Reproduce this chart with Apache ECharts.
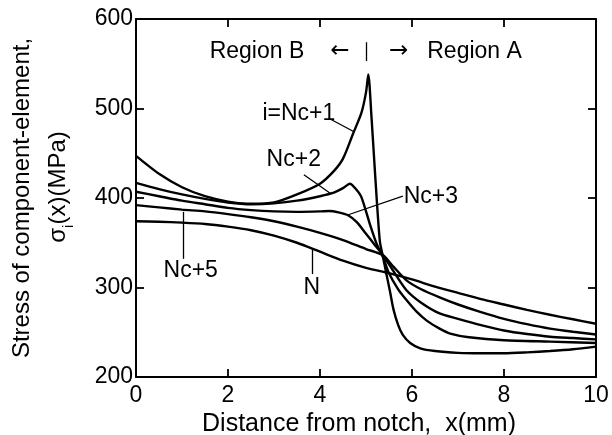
<!DOCTYPE html>
<html>
<head>
<meta charset="utf-8">
<script src="https://cdn.jsdelivr.net/npm/echarts@6/dist/echarts.min.js"></script>
<style>
html, body { margin: 0; padding: 0; background: #fff; }
#chart { width: 612px; height: 435px; }
</style>
</head>
<body>
<div id="chart"></div>
<script>
// stress curves, x in mm, stress in MPa
const nc1X = [0, 0.5, 1, 1.5, 2, 2.5, 3, 3.5, 4, 4.3, 4.5, 4.72, 4.9, 5, 5.05, 5.12, 5.2, 5.3, 5.37, 5.44, 5.52, 5.6, 5.7, 5.8, 5.96, 6.18, 6.5, 7, 7.5, 8, 8.5, 9, 9.5, 10];
const nc1Y = [447, 427, 412, 402, 396, 393.5, 395, 404, 416, 430, 444, 472, 495, 518, 538, 490, 425, 352, 334, 316, 296, 275, 258, 247, 238, 232, 229, 227, 226.5, 226.5, 227.5, 229, 231, 234];

const nc2X = [0, 0.5, 1, 1.5, 2, 2.5, 3, 3.5, 4, 4.3, 4.5, 4.65, 4.78, 4.9, 5.08, 5.23, 5.37, 5.5, 5.7, 5.88, 6.1, 6.32, 6.6, 6.83, 7.24, 8, 9, 10];
const nc2Y = [417, 410, 404, 399, 395, 393, 394, 397, 402, 406, 411, 416, 410, 401, 371.5, 349, 334, 316, 298, 286, 273, 263, 254, 248.5, 244.4, 241, 239.5, 238];

const nc3X = [0, 0.5, 1, 1.5, 2, 2.5, 3, 3.5, 4, 4.2, 4.4, 4.6, 4.8, 5, 5.2, 5.37, 5.6, 5.88, 6.2, 6.6, 7, 7.5, 8, 8.5, 9, 9.5, 10];
const nc3Y = [407, 402, 397, 393, 389, 386.5, 385, 384.5, 385, 385.5, 384, 381, 373, 360, 347, 336, 318, 297, 283, 271, 265, 258, 252, 248, 245, 243.5, 242];

const nc5X = [0, 0.5, 1, 1.5, 2, 2.5, 3, 3.5, 4, 4.5, 5, 5.37, 5.6, 5.88, 6.2, 6.6, 7, 7.5, 8, 8.5, 9, 9.5, 10];
const nc5Y = [392, 389.5, 387, 385, 382, 378.5, 374, 368, 361, 353, 343, 336, 323, 308, 298, 289, 281, 272.5, 265, 259, 254, 250.5, 247.5];

const nX = [0, 0.5, 1, 1.5, 2, 2.5, 3, 3.5, 4, 4.5, 5, 5.5, 6, 6.5, 7, 7.5, 8, 8.5, 9, 9.5, 10];
const nY = [374, 373.5, 372.5, 371, 368, 364, 358, 350, 340, 330, 322, 316, 309, 301, 294, 287, 281, 275, 269.5, 264.5, 259.5];

const xTicks = [0, 2, 4, 6, 8, 10];
const yTicks = [200, 300, 400, 500, 600];

const curveNames = ['i=Nc+1', 'Nc+2', 'Nc+3', 'Nc+5', 'N'];

// annotation placement (data coords)
const labelSpots = [
    ['i=Nc+1', 3.54, 494],
    ['Nc+2', 3.43, 443],
    ['Nc+3', 6.41, 402],
    ['Nc+5', 1.19, 319],
    ['N', 3.82, 300],
    ['Region B', 2.63, 564],
    ['{a|\u2190}', 4.43, 564],
    ['{a|\u2192}', 5.71, 564],
    ['Region A', 7.36, 564]
];
const leaders = [
    [[4.23, 488], [4.74, 474]],
    [[3.65, 426], [4.23, 405]],
    [[5.8, 402], [4.6, 381]],
    [[1.03, 384.5], [1.03, 332]],
    [[3.83, 343], [3.83, 315]],
    [[5, 553], [5, 574]]
];

const font = 'Liberation Sans';
const zip = (xs, ys) => xs.map((x, i) => [x, ys[i]]);
const curves = [zip(nc1X, nc1Y), zip(nc2X, nc2Y), zip(nc3X, nc3Y), zip(nc5X, nc5Y), zip(nX, nY)];

const myChart = echarts.init(document.getElementById('chart'));

const baseX = {
    type: 'value',
    min: xTicks[0],
    max: xTicks[xTicks.length - 1],
    interval: 2,
    axisLine: { show: true, onZero: false, lineStyle: { color: '#000', width: 2 } },
    axisTick: { show: true, inside: true, length: 8, lineStyle: { color: '#000', width: 1.8 } },
    splitLine: { show: false }
};
const baseY = {
    type: 'value',
    min: yTicks[0],
    max: yTicks[yTicks.length - 1],
    interval: 100,
    axisLine: { show: true, onZero: false, lineStyle: { color: '#000', width: 2 } },
    axisTick: { show: true, inside: true, length: 8, lineStyle: { color: '#000', width: 1.8 } },
    splitLine: { show: false }
};

const series = curves.map((d, i) => ({
    name: curveNames[i],
    type: 'line',
    data: d,
    smooth: 0.25,
    showSymbol: false,
    symbol: 'none',
    lineStyle: { color: '#000', width: 2.4 },
    z: 3
}));

series[0].markLine = {
    silent: true,
    symbol: ['none', 'none'],
    label: { show: false },
    lineStyle: { color: '#000', width: 1.3, type: 'solid' },
    data: leaders.map((p) => [{ coord: p[0] }, { coord: p[1] }])
};
series[0].markPoint = {
    silent: true,
    symbol: 'circle',
    symbolSize: 1,
    itemStyle: { color: 'transparent' },
    label: {
        show: true,
        position: 'inside',
        formatter: '{b}',
        color: '#000',
        fontFamily: font,
        fontSize: 23,
        rich: {
            a: { fontFamily: 'DejaVu Sans', fontSize: 23, color: '#000' }
        }
    },
    data: labelSpots.map((s) => ({ name: s[0], coord: [s[1], s[2]] }))
};

option = {
    animation: false,
    backgroundColor: '#fff',
    textStyle: { fontFamily: font },
    grid: { left: 136, right: 16, top: 19, bottom: 58, outerBoundsMode: 'none', containLabel: false },
    xAxis: [
        Object.assign({}, baseX, {
            position: 'bottom',
            axisLabel: { color: '#000', fontSize: 23, margin: 7, fontFamily: font },
            name: 'Distance from notch,  x(mm)',
            nameLocation: 'middle',
            nameGap: 33,
            nameTextStyle: { color: '#000', fontSize: 25, fontFamily: font, padding: [0, 14, 0, 0] }
        }),
        Object.assign({}, baseX, { position: 'top', axisLabel: { show: false } })
    ],
    yAxis: [
        Object.assign({}, baseY, {
            position: 'left',
            axisLabel: { color: '#000', fontSize: 23, margin: 3, fontFamily: font },
            name: 'Stress of component-element,\n{s|\u03c3}{sub|i}{t|(x)(MPa)}',
            nameLocation: 'middle',
            nameRotate: 90,
            nameGap: 60,
            nameTextStyle: {
                color: '#000',
                fontSize: 24,
                lineHeight: 36,
                fontFamily: font,
                rich: {
                    s: { fontSize: 24, fontFamily: font, color: '#000', padding: [0, 0, 0, 22] },
                    sub: { fontSize: 15, fontFamily: font, color: '#000', verticalAlign: 'bottom', padding: [10, 0, 0, 0] },
                    t: { fontSize: 24, fontFamily: font, color: '#000' }
                }
            }
        }),
        Object.assign({}, baseY, { position: 'right', axisLabel: { show: false } })
    ],
    series: series
};

myChart.setOption(option);
</script>
</body>
</html>
